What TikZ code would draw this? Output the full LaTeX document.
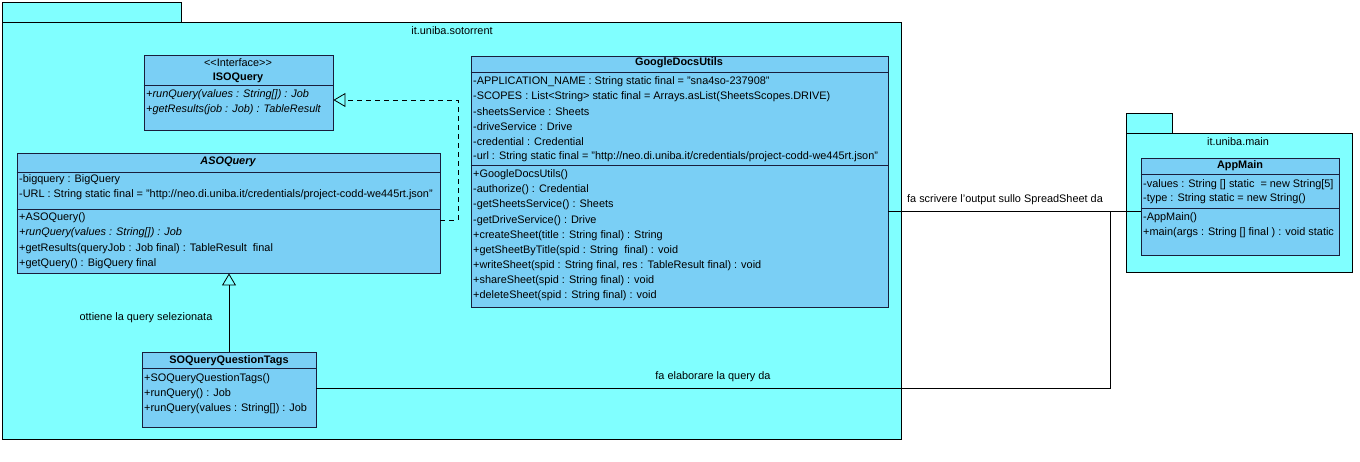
\documentclass[tikz,border=0pt]{standalone}
\usepackage{fontspec}
\setmainfont{Liberation Sans}
\usetikzlibrary{arrows.meta,fit}
\definecolor{pkgfill}{RGB}{128,255,255}
\definecolor{clsfill}{RGB}{122,207,245}
\definecolor{clsline}{RGB}{25,30,60}
\begin{document}
\begin{tikzpicture}[x=1pt,y=-1pt,
  pkgbox/.style={draw=black, fill=pkgfill, line width=0.8pt, inner sep=0pt},
  clsbox/.style={draw=clsline, fill=clsfill, line width=0.9pt, inner sep=0pt},
  divline/.style={draw=clsline, line width=0.9pt},
  txt/.style={anchor=west, inner sep=0pt, font=\fontsize{10.9}{13}\selectfont},
  ctxt/.style={anchor=center, inner sep=0pt, font=\fontsize{10.9}{13}\selectfont},
  bname/.style={anchor=center, inner sep=0pt, font=\fontsize{10.9}{13}\selectfont\bfseries},
  conn/.style={draw=black, line width=0.8pt},
  gentip/.style={-{Triangle[open,length=12pt,width=14pt]}},
]
\useasboundingbox (0,0) rectangle (1360,461);
\fill[white] (0,0) rectangle (1360,461);

% ---------------- package it.uniba.sotorrent
\node[pkgbox, fit={(2,2)(181,22)}] (ptab) {};
\node[pkgbox, fit={(2,22)(901,439)}] (pmain) {};
\node[ctxt] (plabel) at (452,31) {it.uniba.sotorrent};

% ---------------- ISOQuery
\node[clsbox, fit={(144,55)(333,130)}] (iso) {};
\draw[divline] (iso.west |- 0,85) -- (iso.east |- 0,85);
\node[ctxt] (isost) at (238,63) {{<}{<}Interface{>}{>}};
\node[bname] (isoname) at (238,78) {ISOQuery};
\node[txt] (isoo1) at (146,95) {\itshape +runQuery(values : String[]) : Job};
\node[txt] (isoo2) at (146,110) {\itshape +getResults(job : Job) : TableResult};

% ---------------- ASOQuery
\node[clsbox, fit={(17,153)(440,273)}] (aso) {};
\draw[divline] (aso.west |- 0,172) -- (aso.east |- 0,172);
\draw[divline] (aso.west |- 0,209) -- (aso.east |- 0,209);
\node[bname, font=\fontsize{10.9}{13}\selectfont\bfseries\itshape] (asoname) at (228,162) {ASOQuery};
\node[txt] (asoa1) at (19,180) {-bigquery : BigQuery};
\node[txt] (asoa2) at (19,195) {-URL : String static final = "http://neo.di.uniba.it/credentials/project-codd-we445rt.json"};
\node[txt] (asoo1) at (19,218) {+ASOQuery()};
\node[txt] (asoo2) at (19,233) {\itshape +runQuery(values : String[]) : Job};
\node[txt] (asoo3) at (19,249) {+getResults(queryJob : Job final) : TableResult\ \ final};
\node[txt] (asoo4) at (19,264) {+getQuery() : BigQuery final};

% ---------------- GoogleDocsUtils
\node[clsbox, fit={(471,56)(888,307)}] (gdu) {};
\draw[divline] (gdu.west |- 0,72) -- (gdu.east |- 0,72);
\draw[divline] (gdu.west |- 0,165) -- (gdu.east |- 0,165);
\node[bname] (gduname) at (679,63) {GoogleDocsUtils};
\node[txt] (gdua1) at (473,82) {-APPLICATION\_NAME : String static final = "sna4so-237908"};
\node[txt] (gdua2) at (473,97) {-SCOPES : List<String> static final = Arrays.asList(SheetsScopes.DRIVE)};
\node[txt] (gdua3) at (473,112) {-sheetsService : Sheets};
\node[txt] (gdua4) at (473,127) {-driveService : Drive};
\node[txt] (gdua5) at (473,142) {-credential : Credential};
\node[txt] (gdua6) at (473,157) {-url : String static final = "http://neo.di.uniba.it/credentials/project-codd-we445rt.json"};
\node[txt] (gduo1) at (473,175) {+GoogleDocsUtils()};
\node[txt] (gduo2) at (473,190) {-authorize() : Credential};
\node[txt] (gduo3) at (473,205) {-getSheetsService() : Sheets};
\node[txt] (gduo4) at (473,221) {-getDriveService() : Drive};
\node[txt] (gduo5) at (473,236) {+createSheet(title : String final) : String};
\node[txt] (gduo6) at (473,251) {+getSheetByTitle(spid : String\ \ final) : void};
\node[txt] (gduo7) at (473,266) {+writeSheet(spid : String final, res : TableResult final) : void};
\node[txt] (gduo8) at (473,281) {+shareSheet(spid : String final) : void};
\node[txt] (gduo9) at (473,296) {+deleteSheet(spid : String final) : void};

% ---------------- SOQueryQuestionTags
\node[clsbox, fit={(142,352)(316,427)}] (soq) {};
\draw[divline] (soq.west |- 0,368) -- (soq.east |- 0,368);
\node[bname] (soqname) at (229,361) {SOQueryQuestionTags};
\node[txt] (soqo1) at (144,379) {+SOQueryQuestionTags()};
\node[txt] (soqo2) at (144,394) {+runQuery() : Job};
\node[txt] (soqo3) at (144,409) {+runQuery(values : String[]) : Job};

% ---------------- package it.uniba.main
\node[pkgbox, fit={(1126,113)(1172,133)}] (mtab) {};
\node[pkgbox, fit={(1126,133)(1352,272)}] (pmain2) {};
\node[ctxt] (mlabel) at (1238,142) {it.uniba.main};

% ---------------- AppMain
\node[clsbox, fit={(1141,158)(1339,255)}] (app) {};
\draw[divline] (app.west |- 0,174) -- (app.east |- 0,174);
\draw[divline] (app.west |- 0,208) -- (app.east |- 0,208);
\node[bname] (appname) at (1240,166) {AppMain};
\node[txt] (appa1) at (1143,185) {-values : String [] static\ \ = new String[5]};
\node[txt] (appa2) at (1143,199) {-type : String static = new String()};
\node[txt] (appo1) at (1143,218) {-AppMain()};
\node[txt] (appo2) at (1143,233) {+main(args : String [] final ) : void static};

% ---------------- connectors
\coordinate (rbend) at (458,100);
\draw[conn, dashed, dash pattern=on 5pt off 4pt, gentip]
  (aso.east |- 0,220) -| (rbend) -- (iso.east |- rbend);

\draw[conn, gentip] (soq.north) -- (soq.north |- aso.south);
\node[ctxt] (genlabel) at (146,318) {ottiene la query selezionata};

\coordinate (junc) at (1110,211);
\draw[conn] (gdu.east |- junc) -- (app.west |- junc);
\node[ctxt] (wlabel) at (1005,200) {fa scrivere l{\char"27}output sullo SpreadSheet da};

\draw[conn] (soq.east |- 0,388) -| (junc);
\node[ctxt] (elabel) at (713,377) {fa elaborare la query da};
\end{tikzpicture}
\end{document}
